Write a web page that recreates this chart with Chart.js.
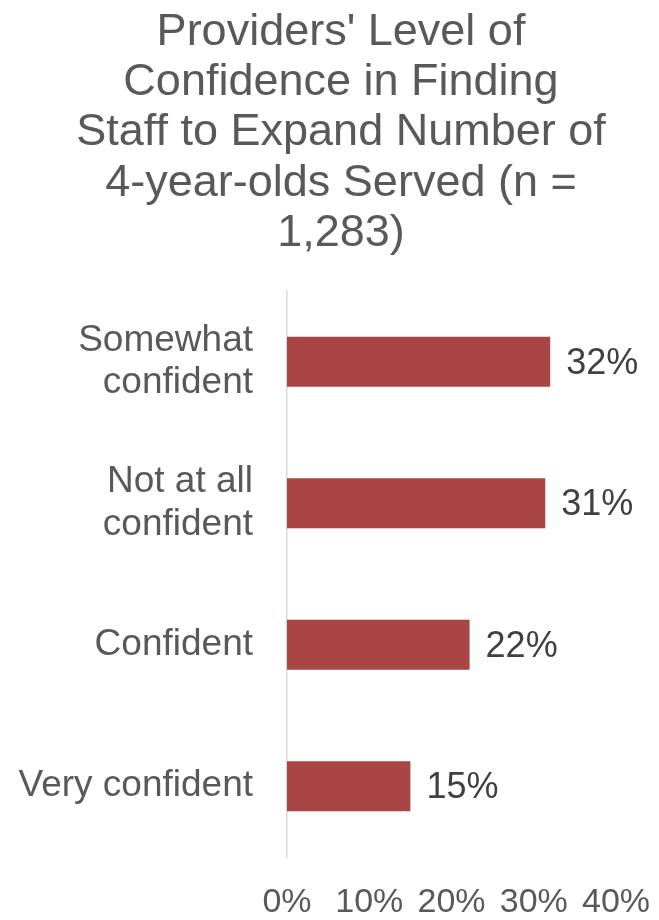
<!DOCTYPE html>
<html>
<head>
<meta charset="utf-8">
<script src="https://cdn.jsdelivr.net/npm/chart.js@4.4.1/dist/chart.umd.min.js"></script>
<style>
  html, body { margin: 0; padding: 0; background: #fff; }
  #wrap { width: 659px; height: 920px; }
</style>
</head>
<body>
<div id="wrap"><canvas id="chart" width="659" height="920"></canvas></div>
<script>
// ===============================
// DATA
// ===============================
const categories = [
  ['Somewhat', 'confident'],
  ['Not at all', 'confident'],
  'Confident',
  'Very confident'
];
// labels show the rounded values
const shares = [32.0, 31.4, 22.2, 15.0];
const xTicks = [0, 10, 20, 30, 40];
const titleLines = [
  "Providers' Level of",
  'Confidence in Finding',
  'Staff to Expand Number of',
  '4-year-olds Served (n =',
  '1,283)'
];

const FONT = "'Liberation Sans', Arial, sans-serif";
const GREY = '#595959';

// ===============================
// PLUGINS
// ===============================
// value labels at the end of each bar
const valueLabels = {
  id: 'valueLabels',
  afterDatasetsDraw(chart) {
    const ctx = chart.ctx;
    const meta = chart.getDatasetMeta(0);
    ctx.save();
    ctx.font = `36px ${FONT}`;
    ctx.fillStyle = '#404040';
    ctx.textAlign = 'left';
    ctx.textBaseline = 'middle';
    meta.data.forEach((bar, i) => {
      ctx.fillText(Math.round(shares[i]) + '%', bar.x + 16, bar.y + 2);
    });
    ctx.restore();
  }
};

// title in the original is centred a little right of the page middle
const titleShift = {
  id: 'titleShift',
  afterLayout(chart) {
    if (chart.titleBlock) chart.titleBlock.left = 23;
  }
};

// ===============================
// CHART
// ===============================
new Chart(document.getElementById('chart').getContext('2d'), {
  type: 'bar',
  data: {
    labels: categories,
    datasets: [
      {
        data: shares,
        backgroundColor: '#A94645',
        borderWidth: 0,
        barPercentage: 0.354,
        categoryPercentage: 1
      }
    ]
  },
  options: {
    indexAxis: 'y',
    responsive: false,
    animation: false,
    devicePixelRatio: 1,
    layout: { padding: 0 },
    plugins: {
      legend: { display: false },
      tooltip: { enabled: false },
      title: {
        display: true,
        text: titleLines,
        color: GREY,
        font: { family: FONT, size: 45, weight: 'normal', lineHeight: 1.12 },
        padding: { top: 7, bottom: 32 }
      }
    },
    scales: {
      x: {
        min: 0,
        max: 40,
        afterBuildTicks: scale => {
          scale.ticks = xTicks.map(v => ({ value: v }));
        },
        afterFit: scale => {
          scale.height = 63;
          scale.paddingLeft = 0;
          scale.paddingRight = 43;
        },
        grid: { display: false },
        border: { display: false },
        ticks: {
          color: GREY,
          padding: 17,
          maxRotation: 0,
          font: { family: FONT, size: 34, lineHeight: 1.2 },
          callback: v => v + '%'
        }
      },
      y: {
        afterFit: scale => {
          scale.width = 287;
          scale.paddingTop = 0;
          scale.paddingBottom = 0;
        },
        grid: { display: false },
        border: { display: true, color: '#D9D9D9', width: 1.5 },
        ticks: {
          color: GREY,
          padding: 26,
          font: { family: FONT, size: 37, lineHeight: 1.15 }
        }
      }
    }
  },
  plugins: [valueLabels, titleShift]
});
</script>
</body>
</html>
